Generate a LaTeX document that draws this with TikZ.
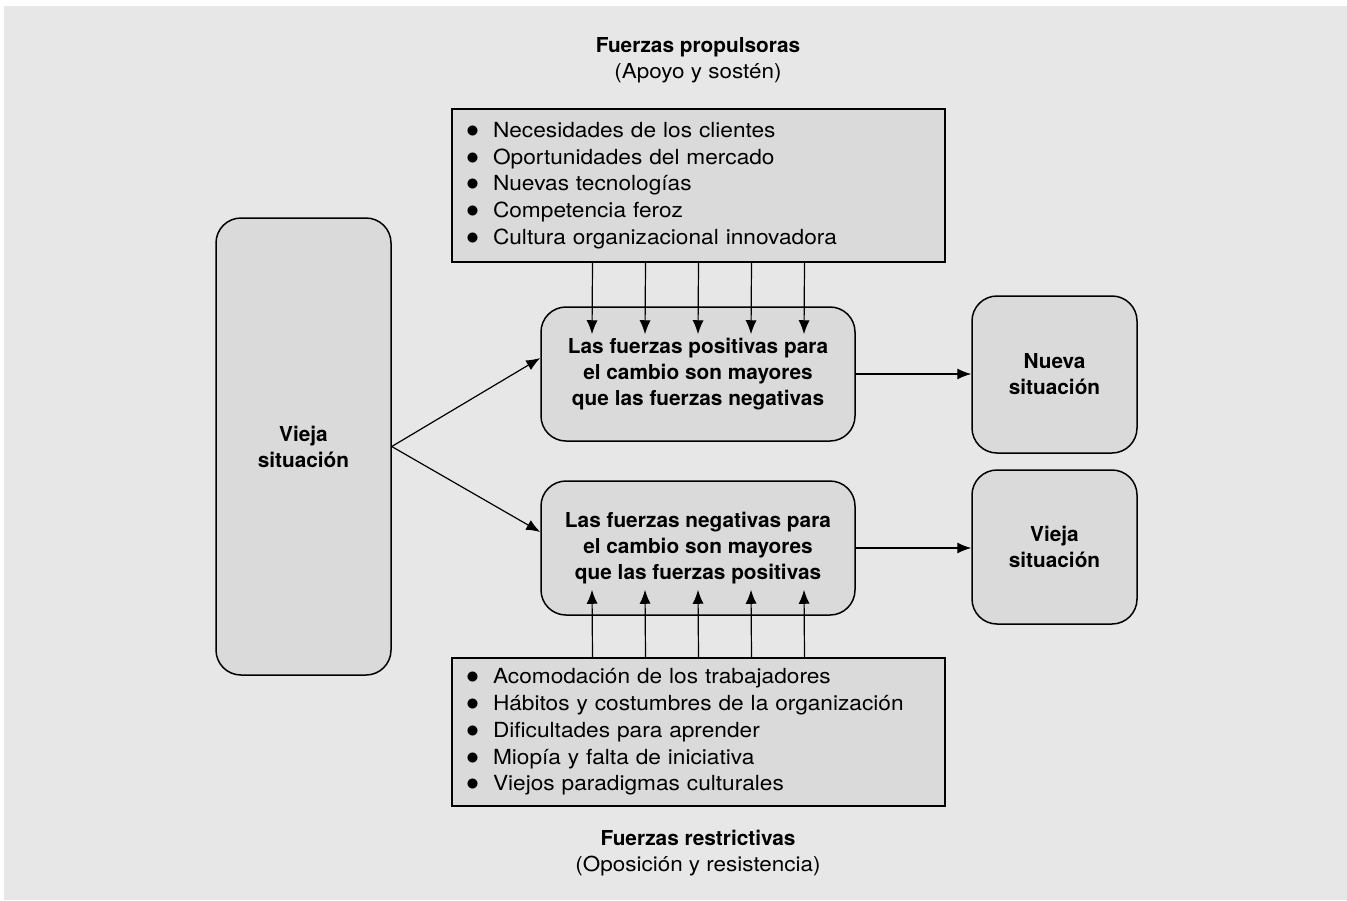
\documentclass[tikz,border=0pt]{standalone}
\usepackage{fontspec}
\usepackage{graphicx}
\setmainfont{TeX Gyre Heros}[FakeStretch=1.09,BoldFeatures={FakeStretch=1.01}]
\usetikzlibrary{positioning,arrows.meta,calc}
\definecolor{panel}{HTML}{E7E7E7}
\definecolor{boxfill}{HTML}{DADADA}
\newcommand{\itm}{\makebox[12pt][l]{\hspace{-1.5pt}\scalebox{1.3}{$\bullet$}}}

\begin{document}
\begin{tikzpicture}[x=0.5pt,y=-0.5pt, line width=0.6pt, >={Latex[length=7pt,width=5.5pt]},
  every node/.style={font=\fontsize{10.4}{13.35}\selectfont},
  listbox/.style={draw,fill=boxfill,line width=0.75pt,text width=229.5pt,align=left,inner xsep=8.5pt},
  roundbox/.style={draw,fill=boxfill,rounded corners=12.5pt,line width=0.75pt,align=center,font=\fontsize{10.3}{13}\selectfont\bfseries},
  title/.style={align=center,font=\fontsize{10.3}{13}\selectfont}]
  \useasboundingbox (0,0) rectangle (1347,900);
  \fill[white] (0,0) rectangle (1347,900);
  \fill[panel] (4,6) rectangle (1347,900);

  \node[title] (pushtitle) at (698,60) {\textbf{Fuerzas propulsoras}\\(Apoyo y sostén)};
  \node[listbox,minimum height=76.5pt] (push) at (698.5,185.5) {\itm Necesidades de los clientes\\
    \itm Oportunidades del mercado\\
    \itm Nuevas tecnologías\\
    \itm Competencia feroz\\
    \itm Cultura organizacional innovadora};
  \node[roundbox,minimum width=87.5pt,minimum height=228.5pt] (old) at (303.5,446.5) {Vieja\\situación};
  \node[roundbox,minimum width=157pt,minimum height=67pt] (pos) at (698,374) {Las fuerzas positivas para\\el cambio son mayores\\que las fuerzas negativas};
  \node[roundbox,minimum width=157pt,minimum height=67pt] (neg) at (698,548) {Las fuerzas negativas para\\el cambio son mayores\\que las fuerzas positivas};
  \node[roundbox,minimum width=82.5pt,minimum height=78.5pt] (new) at (1054.5,374.5) {Nueva\\situación};
  \node[roundbox,minimum width=82.5pt,minimum height=77pt] (same) at (1054.5,547) {Vieja\\situación};
  \node[listbox,minimum height=74pt] (hold) at (698.5,732) {\itm Acomodación de los trabajadores\\
    \itm Hábitos y costumbres de la organización\\
    \itm Dificultades para aprender\\
    \itm Miopía y falta de iniciativa\\
    \itm Viejos paradigmas culturales};
  \node[title] (holdtitle) at (698,853) {\textbf{Fuerzas restrictivas}\\(Oposición y resistencia)};

  % forces pushing and holding
  \foreach \dx in {-53,-26.5,0,26.5,53} {
    \draw[->] ([xshift=\dx pt]push.south) -- ([xshift=\dx pt,yshift=-14pt]pos.north);
    \draw[->] ([xshift=\dx pt]hold.north) -- ([xshift=\dx pt,yshift=13pt]neg.south);
  }
  \draw[->] (old.east) -- ([yshift=8pt]pos.west);
  \draw[->] (old.east) -- ([yshift=8pt]neg.west);
  \draw[->] (pos.east) -- (pos.east -| new.west);
  \draw[->] (neg.east) -- (neg.east -| same.west);
\end{tikzpicture}
\end{document}
